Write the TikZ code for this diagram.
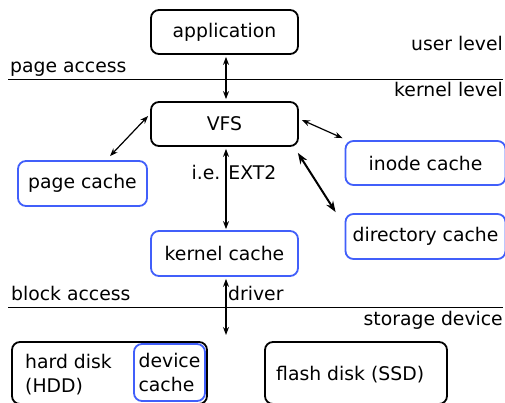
\documentclass[tikz,border=0pt]{standalone}
\usepackage{fontspec}
\setmainfont{DejaVu Sans}
\usepackage{tikz}
\usetikzlibrary{arrows.meta}
\definecolor{cacheblue}{RGB}{65,95,250}

\begin{document}
\begin{tikzpicture}[>={Stealth[length=8pt,width=6pt]}, x=1pt, y=-1pt,
	font=\fontsize{18.8}{24}\selectfont,
	box/.style={draw, line width=1.8pt, rounded corners=8pt, inner sep=0pt},
	cachebox/.style={box, draw=cacheblue},
	link/.style={line width=1.2pt, <->}]
	\useasboundingbox (0,0) rectangle (505,403);
	\path
	(8,80) coordinate (pl)
	(503,80) coordinate (pr)
	(8,307) coordinate (bl)
	(503,307) coordinate (br)
	(226,335) coordinate (drv)
	;
	
	% level separators
	\draw[line width=1pt] (pl) -- (pr);
	\draw[line width=1pt] (bl) -- (br);
	
	\node[anchor=base east, inner sep=0pt] (user) at (503,51) {user level};
	\node[anchor=base west, inner sep=0pt] (page) at (10,73) {page access};
	\node[anchor=base east, inner sep=0pt] (kern) at (503,97) {kernel level};
	\node[anchor=base west, inner sep=0pt] (block) at (11,300) {block access};
	\node[anchor=base east, inner sep=0pt] (stor) at (503,325) {storage device};
	
	% boxes
	\node[box, minimum width=147pt, minimum height=44pt] (app) at (224.5,32) {application};
	\node[box, minimum width=147pt, minimum height=44pt] (vfs) at (224.5,124) {VFS};
	\node[cachebox, minimum width=129pt, minimum height=45pt] (pc) at (82.5,183.5) {page cache};
	\node[cachebox, minimum width=160pt, minimum height=44pt] (inode) at (425.5,163) {inode cache};
	\node[cachebox, minimum width=160pt, minimum height=45pt] (dir) at (425.5,236.5) {directory cache};
	\node[cachebox, minimum width=147pt, minimum height=45pt] (kc) at (224.5,253.5) {kernel cache};
	\node[box, minimum width=195pt, minimum height=62pt] (hdd) at (109.5,373) {};
	\node[cachebox, minimum width=71pt, minimum height=57pt, align=left] (dc) at (169.5,372.5) {device\\cache};
	\node[anchor=west, align=left, inner sep=0pt] (hddtxt) at (25,375) {hard disk\\(HDD)};
	\node[box, minimum width=182pt, minimum height=62pt] (ssd) at (356,373) {};
	\node[anchor=base west, inner sep=0pt] (ssdtxt) at (276,380) {flash disk (SSD)};
	
	% connectors
	\draw[link] ([xshift=1.5pt,yshift=-2pt]app.south) -- ([xshift=1.5pt,yshift=2pt]vfs.north);
	\draw[link] ([shift={(-2pt,8pt)}]vfs.west) -- ([shift={(27.5pt,4pt)}]pc.north);
	\draw[link] ([shift={(3pt,4pt)}]vfs.east) -- ([shift={(-2pt,2pt)}]inode.north west);
	\draw[line width=2pt, {Stealth[length=11pt,width=8pt]}-{Stealth[length=11pt,width=8pt]}] ([shift={(-1pt,-6pt)}]vfs.south east) -- ([shift={(-9pt,1pt)}]dir.north west);
	\draw[link] ([xshift=1.5pt,yshift=-2pt]vfs.south) -- ([xshift=1.5pt,yshift=1pt]kc.north);
	\draw[link] ([xshift=1.5pt,yshift=-2pt]kc.south) -- (drv);
	
	\node[anchor=base, inner sep=0pt] (ext) at (234,180) {i.e. EXT2};
	\node[anchor=base west, inner sep=0pt] (drvtxt) at (228,300) {driver};
\end{tikzpicture}
\end{document}
